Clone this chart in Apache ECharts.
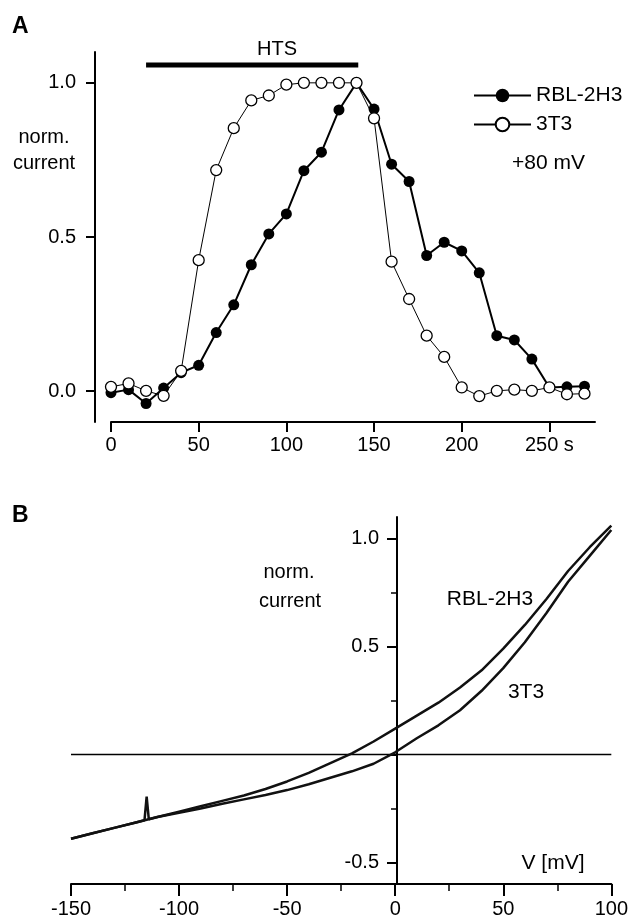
<!DOCTYPE html>
<html lang="en">
<head>
<meta charset="UTF-8">
<title>HTS current</title>
<style>
  html, body { margin: 0; padding: 0; background: #fff; }
  #chart { width: 631px; height: 922px; }
</style>
</head>
<body>
<div id="chart"></div>
<script src="https://cdn.jsdelivr.net/npm/echarts@6/dist/echarts.min.js"></script>
<script>
// ---- panel A: time course at +80 mV ----
var timeS = [0, 10, 20, 30, 40, 50, 60, 70, 80, 90, 100, 110, 120, 130, 140,
             150, 160, 170, 180, 190, 200, 210, 220, 230, 240, 250, 260, 270];
var rblA = [-0.005, 0.005, -0.04, 0.01, 0.06, 0.084, 0.19, 0.28, 0.41, 0.51, 0.575, 0.715, 0.775, 0.912, 1.0,
            0.915, 0.736, 0.68, 0.44, 0.483, 0.455, 0.384, 0.18, 0.166, 0.104, 0.012, 0.014, 0.016];
var t3A = [0.014, 0.025, 0.001, -0.015, 0.066, 0.425, 0.717, 0.853, 0.943, 0.959, 0.994, 1.0, 1.0, 1.0, 1.0,
           0.885, 0.42, 0.299, 0.18, 0.111, 0.012, -0.016, 0.001, 0.005, 0.001, 0.012, -0.01, -0.008];
var htsRange = [20, 141];
var htsLevel = 1.058;
var timeTicks = [0, 50, 100, 150, 200, 250];
var currentTicksA = [0, 0.5, 1.0];

// ---- panel B: I-V traces ----
var voltage = [-150, -140, -130, -120, -110, -100, -90, -80, -70, -60, -50, -40, -30,
               -20, -10, 0, 10, 20, 30, 40, 50, 60, 70, 80, 90, 100];
var t3B = [-0.39, -0.365, -0.34, -0.315, -0.29, -0.27, -0.25, -0.228, -0.208, -0.188, -0.165, -0.138, -0.108,
           -0.078, -0.043, 0.01, 0.075, 0.135, 0.205, 0.295, 0.40, 0.52, 0.655, 0.80, 0.92, 1.04];
var rblV = [-150, -140, -130, -120, -116, -115, -114, -110, -100, -90, -80, -70, -60, -50, -40, -30,
            -20, -10, 0, 10, 20, 30, 40, 50, 60, 70, 80, 90, 100];
var rblB = [-0.39, -0.365, -0.34, -0.315, -0.305, -0.195, -0.3, -0.29, -0.265, -0.24, -0.215, -0.19, -0.16, -0.125, -0.085, -0.04,
            0.005, 0.06, 0.12, 0.18, 0.24, 0.31, 0.39, 0.49, 0.60, 0.72, 0.85, 0.96, 1.06];
var zeroLineV = [-150, 100];
var currentTicksMinorB = [-0.25, 0.25, 0.75];
var currentTicksB = [-0.5, 0, 0.5, 1.0];
var currentLabelsB = [-0.5, 0.5, 1.0];

var FONT = "'Liberation Sans', Arial, sans-serif";

function pairs(xs, ys) {
    return xs.map(function (x, i) { return [x, ys[i]]; });
}

function txt(x, y, s, font, align) {
    return {
        type: 'text', x: x, y: y, silent: true,
        style: {
            text: s, font: font || ('20px ' + FONT), fill: '#000',
            align: align || 'center', verticalAlign: 'middle',
            textAlign: align || 'center', textVerticalAlign: 'middle'
        }
    };
}

var chart = echarts.init(document.getElementById('chart'), null, { renderer: 'canvas' });

var axisLbl = { color: '#000', fontSize: 20, fontFamily: FONT };
// y axis of B sits at V = 0: 397px from the page edge, grid starts at 71
var yOffsetB = -(397 - 71);

chart.setOption({
    animation: false,
    backgroundColor: '#fff',
    grid: [
        { left: 111, right: 36, top: 52, bottom: 500 },
        { left: 71, right: 18, top: 517, bottom: 38 }
    ],
    legend: {
        data: ['RBL-2H3', '3T3'],
        orient: 'vertical',
        left: 468, top: 80,
        itemWidth: 57, itemHeight: 17, itemGap: 8,
        selectedMode: false,
        textStyle: { color: '#000', fontSize: 21, fontFamily: FONT }
    },
    xAxis: [
        {
            type: 'value', gridIndex: 0, min: 0, max: 276,
            axisLine: { onZero: false, lineStyle: { color: '#000', width: 2 } },
            axisTick: { customValues: timeTicks, length: 10, lineStyle: { color: '#000', width: 2 } },
            axisLabel: Object.assign({ customValues: timeTicks, margin: 13,
                formatter: function (v) { return v === 250 ? '250 s' : String(v); } }, axisLbl),
            splitLine: { show: false }
        },
        {
            type: 'value', gridIndex: 1, min: -150, max: 100, interval: 50,
            axisLine: { onZero: false, lineStyle: { color: '#000', width: 2 } },
            axisTick: { length: 12, lineStyle: { color: '#000', width: 2 } },
            minorTick: { show: true, splitNumber: 2, length: 7, lineStyle: { color: '#000', width: 1.5 } },
            axisLabel: Object.assign({ margin: 15 }, axisLbl),
            splitLine: { show: false }
        }
    ],
    yAxis: [
        {
            type: 'value', gridIndex: 0, min: -0.1, max: 1.1, offset: 16,
            axisLine: { show: true, onZero: false, lineStyle: { color: '#000', width: 2 } },
            axisTick: { show: true, customValues: currentTicksA, length: 9, lineStyle: { color: '#000', width: 2 } },
            axisLabel: Object.assign({ customValues: currentTicksA, margin: 19,
                formatter: function (v) { return v.toFixed(1); } }, axisLbl),
            splitLine: { show: false }
        },
        {
            type: 'value', gridIndex: 1, min: -0.6, max: 1.1, position: 'left', offset: yOffsetB,
            axisLine: { show: true, onZero: false, lineStyle: { color: '#000', width: 2 } },
            axisTick: { show: true, customValues: currentTicksB, length: 10, lineStyle: { color: '#000', width: 2 } },
            axisLabel: Object.assign({ customValues: currentLabelsB, margin: 18,
                formatter: function (v) { return v.toFixed(1); } }, axisLbl),
            splitLine: { show: false }
        },
        {
            // short ticks between the labelled ones
            type: 'value', gridIndex: 1, min: -0.6, max: 1.1, position: 'left', offset: yOffsetB,
            axisLine: { show: false, onZero: false },
            axisTick: { show: true, customValues: currentTicksMinorB, length: 6, lineStyle: { color: '#000', width: 1.5 } },
            axisLabel: { show: false },
            splitLine: { show: false }
        }
    ],
    series: [
        {
            name: 'HTS', type: 'line', xAxisIndex: 0, yAxisIndex: 0, silent: true,
            data: htsRange.map(function (t) { return [t, htsLevel]; }),
            symbol: 'none', lineStyle: { color: '#000', width: 5 }
        },
        {
            name: 'RBL-2H3', type: 'line', xAxisIndex: 0, yAxisIndex: 0,
            data: pairs(timeS, rblA),
            symbol: 'circle', symbolSize: 11, showAllSymbol: true,
            itemStyle: { color: '#000' },
            lineStyle: { color: '#000', width: 2 }
        },
        {
            name: '3T3', type: 'line', xAxisIndex: 0, yAxisIndex: 0,
            data: pairs(timeS, t3A),
            symbol: 'circle', symbolSize: 11, showAllSymbol: true,
            itemStyle: { color: '#fff', borderColor: '#000', borderWidth: 1.3 },
            lineStyle: { color: '#000', width: 1 }
        },
        {
            name: 'zero', type: 'line', xAxisIndex: 1, yAxisIndex: 1, silent: true,
            data: zeroLineV.map(function (v) { return [v, 0]; }),
            symbol: 'none', lineStyle: { color: '#000', width: 1.5 }
        },
        {
            name: 'RBL-2H3 I-V', type: 'line', xAxisIndex: 1, yAxisIndex: 1,
            data: pairs(rblV, rblB), symbol: 'none',
            lineStyle: { color: '#111', width: 2.5 }
        },
        {
            name: '3T3 I-V', type: 'line', xAxisIndex: 1, yAxisIndex: 1,
            data: pairs(voltage, t3B), symbol: 'none',
            lineStyle: { color: '#111', width: 2.5 }
        }
    ],
    graphic: [
        txt(12, 27, 'A', 'bold 23px ' + FONT, 'left'),
        txt(277, 49, 'HTS', '20px ' + FONT),
        txt(44, 137, 'norm.', '20px ' + FONT),
        txt(44, 163, 'current', '20px ' + FONT),
        txt(512, 163, '+80 mV', '21px ' + FONT, 'left'),
        txt(12, 516, 'B', 'bold 23px ' + FONT, 'left'),
        txt(289, 572, 'norm.', '20px ' + FONT),
        txt(290, 601, 'current', '20px ' + FONT),
        txt(490, 599, 'RBL-2H3', '21px ' + FONT),
        txt(526, 692, '3T3', '21px ' + FONT),
        txt(553, 863, 'V [mV]', '21px ' + FONT)
    ]
});
</script>
</body>
</html>
